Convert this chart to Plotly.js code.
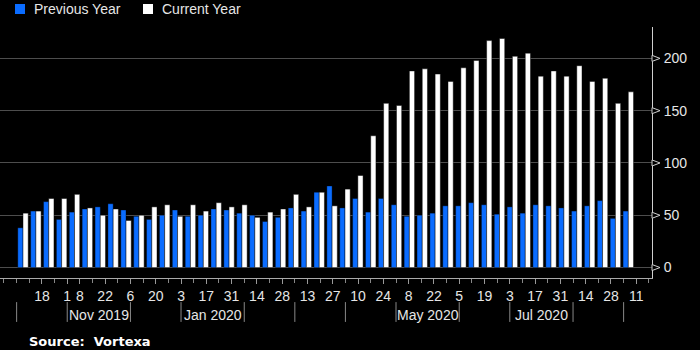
<!DOCTYPE html>
<html><head><meta charset="utf-8">
<script src="https://cdn.plot.ly/plotly-3.0.1.min.js"></script>
<style>html,body{margin:0;padding:0;background:#000;}#chart{width:700px;height:350px;}</style>
</head><body><div id="chart"></div>
<script>
const weeks = ['2019-10-11','2019-10-18','2019-10-25','2019-11-01','2019-11-08','2019-11-15','2019-11-22','2019-11-29',
  '2019-12-06','2019-12-13','2019-12-20','2019-12-27','2020-01-03','2020-01-10','2020-01-17','2020-01-24','2020-01-31',
  '2020-02-07','2020-02-14','2020-02-21','2020-02-28','2020-03-06','2020-03-13','2020-03-20','2020-03-27',
  '2020-04-03','2020-04-10','2020-04-17','2020-04-24','2020-05-01','2020-05-08','2020-05-15','2020-05-22','2020-05-29',
  '2020-06-05','2020-06-12','2020-06-19','2020-06-26','2020-07-03','2020-07-10','2020-07-17','2020-07-24','2020-07-31',
  '2020-08-07','2020-08-14','2020-08-21','2020-08-28','2020-09-04'];
const previousYear = [38,54,63,46,53,56,58,61,55,49,46,50,
  55,49,50,56,55,52,50,44,48,57,54,72,78,
  57,66,53,66,60,49,50,52,59,59,62,60,
  51,58,52,60,59,57,54,59,64,47,54];
const currentYear = [52,54,66,66,70,57,50,56,45,50,58,60,
  49,60,54,62,58,60,48,53,56,70,58,72,59,
  75,88,126,157,155,188,190,185,178,191,198,217,
  219,202,205,183,188,183,193,178,181,157,168];
const seriesNames = ['Previous Year', 'Current Year'];
const tickDates = ['2019-10-18','2019-11-01','2019-11-08','2019-11-22','2019-12-06','2019-12-20','2020-01-03','2020-01-17',
  '2020-01-31','2020-02-14','2020-02-28','2020-03-13','2020-03-27','2020-04-10','2020-04-24','2020-05-08','2020-05-22',
  '2020-06-05','2020-06-19','2020-07-03','2020-07-17','2020-07-31','2020-08-14','2020-08-28','2020-09-11'];
const tickLabels = ['18','1','8','22','6','20','3','17','31','14','28','13','27','10','24','8','22','5','19','3','17','31','14','28','11'];
const monthBreaks = ['2019-10-04','2019-11-01','2019-12-06','2020-01-03','2020-02-07','2020-03-06','2020-04-03',
  '2020-05-01','2020-06-05','2020-07-03','2020-08-07','2020-09-04'];
const monthLabels = ['Nov 2019','Jan 2020','May 2020','Jul 2020'];
const monthLabelStarts = ['2019-11-01','2020-01-03','2020-05-01','2020-07-03'];
const monthLabelEnds = ['2019-12-06','2020-02-07','2020-06-05','2020-08-07'];
const yTicks = [0,50,100,150,200];

const BLUE = '#0a6cff';
const COLORS = [BLUE, '#ffffff'];
const TXT = '#e6e6e6';
const FONT = 'Liberation Sans, Arial, sans-serif';
const PW = 652, PH = 251, PB = 278;  // plot width, plot height, plot bottom (px)

function mid(a, b) {
  const t = (Date.parse(a) + Date.parse(b)) / 2;
  return new Date(t).toISOString().slice(0, 19).replace('T', ' ');
}
const px = x => x / PW;
const py = y => (PB - y) / PH;

const traces = [
  {type: 'bar', name: seriesNames[0], x: weeks, y: previousYear, xaxis: 'x', yaxis: 'y',
   marker: {color: COLORS[0], line: {color: 'rgba(0,0,0,0.35)', width: 1}}, hoverinfo: 'skip', showlegend: false},
  {type: 'bar', name: seriesNames[1], x: weeks, y: currentYear, xaxis: 'x', yaxis: 'y',
   marker: {color: COLORS[1], line: {color: 'rgba(0,0,0,0.45)', width: 1}}, hoverinfo: 'skip', showlegend: false},
  {type: 'scatter', mode: 'markers', x: tickDates, y: tickDates.map(() => null), xaxis: 'x2', yaxis: 'y',
   showlegend: false, hoverinfo: 'skip', marker: {opacity: 0}}
];

const shapes = [];
monthBreaks.forEach(d => shapes.push({type: 'line', xref: 'x2', yref: 'paper', x0: d, x1: d,
  y0: -0.096, y1: -0.175, line: {color: '#888', width: 1}}));
const dx = 8 / PW;
yTicks.forEach(v => shapes.push({type: 'path', xref: 'paper', yref: 'y',
  path: `M 1 ${v + 2.9} L ${1 + dx} ${v} L 1 ${v - 2.9} Z`, line: {color: '#cfcfcf', width: 1}, fillcolor: '#000'}));

const annotations = monthLabels.map((t, i) => ({text: t, xref: 'x2', yref: 'paper',
  x: mid(monthLabelStarts[i], monthLabelEnds[i]), y: -0.147, xanchor: 'center', yanchor: 'middle',
  showarrow: false, font: {family: FONT, size: 14, color: TXT}}));
annotations.push({text: '<b>Source:\u00a0 Vortexa</b>', xref: 'paper', yref: 'paper', x: 27 / PW, y: -0.251,
  xanchor: 'left', yanchor: 'middle', showarrow: false, font: {family: 'DejaVu Sans, Verdana, sans-serif', size: 13, color: '#ffffff'}});

// legend (drawn manually to match the original placement)
const legendX = [15, 143];
seriesNames.forEach((n, i) => {
  shapes.push({type: 'rect', xref: 'paper', yref: 'paper', x0: px(legendX[i]), x1: px(legendX[i] + 10),
    y0: py(14), y1: py(4), fillcolor: COLORS[i], line: {width: 0}});
  annotations.push({text: n, xref: 'paper', yref: 'paper', x: px(legendX[i] + 17), y: py(9),
    xanchor: 'left', yanchor: 'middle', showarrow: false, font: {family: FONT, size: 14, color: TXT}});
});

const layout = {
  width: 700, height: 350,
  paper_bgcolor: '#000', plot_bgcolor: '#000',
  margin: {l: 0, r: 48, t: 27, b: 72},
  font: {family: FONT, size: 14, color: TXT},
  barmode: 'group', bargap: 0.19, bargroupgap: 0,
  showlegend: false,
  xaxis: {type: 'category', range: [-1.786, 48.84], showticklabels: false, showgrid: false,
    showline: false, zeroline: false, ticks: '', fixedrange: true},
  xaxis2: {type: 'date', overlaying: 'x', anchor: 'y', side: 'bottom',
    range: ['2019-09-24 19:00', '2020-09-19 17:00'], autorange: false,
    tickmode: 'array', tickvals: tickDates, ticktext: tickLabels, tickangle: 0,
    ticks: 'outside', ticklen: 5, tickcolor: '#999', tickwidth: 1,
    showline: true, linecolor: '#aaa', linewidth: 1, showgrid: false, zeroline: false,
    tickfont: {family: FONT, size: 14, color: TXT},
    minor: {tickmode: 'linear', tick0: '2019-10-04', dtick: 7 * 86400000, ticks: 'outside', ticklen: 4, tickcolor: '#888', showgrid: false}},
  yaxis: {side: 'right', range: [-10, 230], autorange: false, tickmode: 'array', tickvals: yTicks,
    ticktext: yTicks.map(String), ticks: '', showgrid: true, gridcolor: '#4d4d4d', gridwidth: 1,
    zeroline: false, showline: true, linecolor: '#cfcfcf', linewidth: 1, ticklabelstandoff: 8,
    tickfont: {family: FONT, size: 14, color: TXT}, fixedrange: true},
  shapes: shapes,
  annotations: annotations
};

Plotly.newPlot('chart', traces, layout, {displayModeBar: false, staticPlot: true});
</script>
</body></html>
